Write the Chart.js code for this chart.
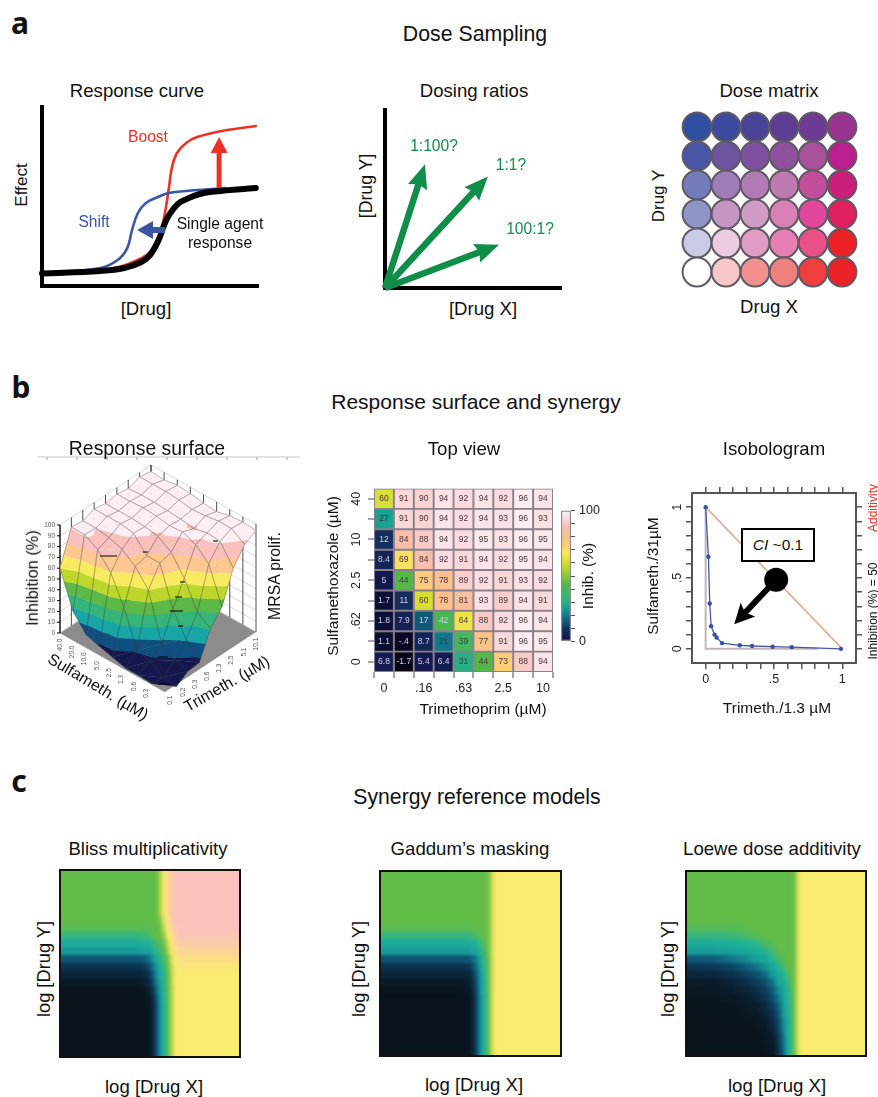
<!DOCTYPE html>
<html>
<head>
<meta charset="utf-8">
<title>Dose sampling, response surface and synergy models</title>
<script src="https://cdn.jsdelivr.net/npm/chart.js@4"></script>
<style>
html, body { margin: 0; background: #fff; }
#page { position: relative; width: 878px; height: 1097px; overflow: hidden; font-family: "Liberation Sans", Arial, sans-serif; color: #111; }
#page canvas { position: absolute; }
.t { position: absolute; white-space: nowrap; transform: translate(-50%, -50%); line-height: 1; }
.frame { position: absolute; box-sizing: border-box; overflow: hidden; border: 2px solid #111; }
.cibox { position: absolute; box-sizing: border-box; left: 741px; top: 528px; width: 74px; height: 34px; border: 2px solid #000; background: #fff; font-size: 15.5px; line-height: 30px; text-align: center; }
</style>
</head>
<body>
<div id="page"></div>
<script>
// response curve, x = dose position, y = effect (both 0-100 across the axes)
const singleX = [0, 27, 38, 46, 50, 54, 56.5, 59, 63, 67, 73, 80, 99];
const singleY = [7, 8.4, 10, 13.4, 17.3, 25.7, 34, 40, 46, 48.6, 51.4, 52.8, 54.7];
const boostX = [0, 33, 46, 51, 54, 55.6, 57.4, 58.8, 60.2, 62.5, 66.7, 71.8, 85, 99];
const boostY = [7, 10, 15.6, 20, 25.7, 33, 44, 55.3, 66.5, 74.3, 79.9, 83.2, 87, 89.4];
const shiftX = [0, 27, 35, 39.4, 41.7, 44.4, 48.1, 53.7, 58.8, 72, 85];
const shiftY = [7, 10, 14.5, 21, 31.3, 40.8, 46.4, 49.7, 52, 53.6, 54.7];
const boostArrow = [[82, 54.7], [82, 83.2]];
const shiftArrow = [[57, 31.3], [44, 31.3]];

// dosing ratio arrow tips
const ratioTips = [[22.7, 69.5], [58.5, 62.7], [64.8, 24.3]];

// dose matrix, top row first
const wellColors = [
  ["#2f4fa0", "#3a4a9e", "#4a4499", "#5c3d94", "#6f3a93", "#9a3491"],
  ["#4a55a5", "#6c54a0", "#7e50a0", "#8f509e", "#a9509c", "#bb1f8f"],
  ["#737bbd", "#a07db6", "#b27ab4", "#c07ab2", "#c24f9c", "#cc1f7a"],
  ["#9095c8", "#c596c4", "#d09bc4", "#d87fb4", "#e0479a", "#e01f5e"],
  ["#c9cbe6", "#eccae0", "#e09cc4", "#e87fb4", "#ea5088", "#ec2027"],
  ["#ffffff", "#f8c8c8", "#f29090", "#f08080", "#ee3e3e", "#ec2027"]
];

// inhibition (%), top row = highest sulfamethoxazole
const inhibition = [
  [60, 91, 90, 94, 92, 94, 92, 96, 94],
  [27, 91, 90, 94, 92, 94, 93, 96, 93],
  [12, 84, 88, 94, 92, 95, 93, 96, 95],
  [8.4, 69, 84, 92, 91, 94, 92, 95, 94],
  [5, 44, 75, 78, 89, 92, 91, 93, 92],
  [1.7, 11, 60, 78, 81, 93, 89, 94, 91],
  [1.8, 7.9, 17, 42, 64, 88, 92, 96, 94],
  [1.1, -0.4, 8.7, 21, 39, 77, 91, 96, 95],
  [6.8, -1.7, 5.4, 6.4, 31, 44, 73, 88, 94]
];
const inhibitionText = [
  ["60", "91", "90", "94", "92", "94", "92", "96", "94"],
  ["27", "91", "90", "94", "92", "94", "93", "96", "93"],
  ["12", "84", "88", "94", "92", "95", "93", "96", "95"],
  ["8.4", "69", "84", "92", "91", "94", "92", "95", "94"],
  ["5", "44", "75", "78", "89", "92", "91", "93", "92"],
  ["1.7", "11", "60", "78", "81", "93", "89", "94", "91"],
  ["1.8", "7.9", "17", "42", "64", "88", "92", "96", "94"],
  ["1.1", "-.4", "8.7", "21", "39", "77", "91", "96", "95"],
  ["6.8", "-1.7", "5.4", "6.4", "31", "44", "73", "88", "94"]
];
const topViewX = ["0", "", ".16", "", ".63", "", "2.5", "", "10"];
const topViewY = ["0", "", ".62", "", "2.5", "", "10", "", "40"];
const colorbarTicks = [0, 10, 20, 30, 40, 50, 60, 70, 80, 90, 100];

// 3d surface axes
const zTicks = [0, 10, 20, 30, 40, 50, 60, 70, 80, 90, 100];
const sulfaTicks = ["40.0", "20.0", "10.0", "5.0", "2.5", "1.3", "0.6", "0.3"];
const trimTicks = ["0.1", "0.2", "0.3", "0.6", "1.3", "2.5", "5.1", "10.1"];
const bandColors = ["#14184f", "#0f5080", "#17a5a8", "#35b57a", "#5cb947", "#bcd62c", "#f8ea60", "#fcc890", "#f8c0bc", "#fdeef3"];
const ruleTicks = [47, 77, 107, 137, 167, 197, 227, 257, 287];
// short dark strokes left on the surface: from x, to x, at y
const surfaceDashes = [[100, 117, 556], [143, 148, 552], [175, 182, 597], [170, 183, 611], [178, 183, 626], [180, 185, 582], [213, 218, 541], [158, 168, 657], [158, 170, 684]];

// isobologram
const isoCurveX = [0, 0.02, 0.03, 0.04, 0.065, 0.08, 0.12, 0.25, 0.34, 0.49, 0.63, 0.99];
const isoCurveY = [1, 0.65, 0.32, 0.16, 0.1, 0.08, 0.04, 0.025, 0.02, 0.015, 0.012, 0];
const additivityX = [0, 1];
const additivityY = [1, 0];
const axisGuideX = [0, 0, 0.82];
const axisGuideY = [1, 0, 0];
const isoTicks = [0, 0.1, 0.2, 0.3, 0.4, 0.5, 0.6, 0.7, 0.8, 0.9, 1];
const isoLabels = ["0", "", "", "", "", ".5", "", "", "", "", "1"];
const ciArrow = [[0.516, 0.488], [0.209, 0.174]];

// synergy models: inhibition read across each of 24 rows, top row first
const blissCols = [0, .44, .48, .50, .52, .54, .56, .58, .60, .62, .64, .67, 1];
const bTop = [45, 45, 45, 45, 45, 46, 55, 66, 74, 82, 85, 85, 85];
const bLow = [0, 0, 1, 4, 10, 19, 29, 34, 45, 53, 64, 66, 66];
const blissRows = [
  bTop, bTop, bTop, bTop, bTop, bTop,
  [45, 45, 45, 45, 45, 45, 50, 62, 72, 80, 85, 85, 85],
  [44, 44, 44, 44, 45, 45, 47, 58, 68, 77, 83, 85, 85],
  [38, 38, 40, 42, 44, 45, 46, 52, 64, 72, 80, 84, 84],
  [31, 31, 33, 35, 38, 41, 44, 47, 58, 68, 76, 80, 80],
  [27, 27, 28, 29, 33, 37, 41, 45, 52, 64, 72, 76, 76],
  [18, 18, 20, 23, 27, 31, 36, 42, 47, 60, 68, 72, 72],
  [12, 12, 14, 18, 23, 28, 33, 40, 46, 56, 66, 69, 69],
  [8, 8, 10, 14, 20, 27, 31, 38, 45, 55, 65, 67, 67],
  [5, 5, 7, 11, 17, 25, 30, 36, 45, 54, 65, 66, 66],
  [2, 2, 4, 8, 14, 22, 30, 35, 45, 53, 65, 66, 66],
  [0, 0, 2, 5, 11, 20, 29, 35, 45, 53, 64, 66, 66],
  bLow, bLow, bLow, bLow, bLow, bLow, bLow
];

const gaddumCols = [0, .44, .48, .50, .52, .54, .56, .58, .60, .62, .64, 1];
const gTop = [45, 45, 45, 45, 45, 45, 45, 45, 47, 58, 66, 66];
const gLow = [0, 0, 1, 4, 10, 19, 28, 34, 46, 58, 66, 66];
const gaddumRows = [
  gTop, gTop, gTop, gTop, gTop, gTop, gTop,
  [44, 44, 44, 44, 45, 45, 45, 45, 47, 58, 66, 66],
  [38, 38, 38, 39, 40, 42, 44, 45, 47, 58, 66, 66],
  [31, 31, 31, 32, 33, 36, 40, 44, 47, 58, 66, 66],
  [27, 27, 27, 28, 29, 32, 36, 42, 47, 58, 66, 66],
  [18, 18, 18, 19, 22, 26, 31, 40, 46, 58, 66, 66],
  [12, 12, 12, 14, 18, 24, 30, 38, 46, 58, 66, 66],
  [8, 8, 8, 10, 15, 22, 29, 36, 46, 58, 66, 66],
  [5, 5, 5, 8, 13, 21, 29, 35, 46, 58, 66, 66],
  [2, 2, 3, 6, 12, 20, 29, 35, 46, 58, 66, 66],
  gLow, gLow, gLow, gLow, gLow, gLow, gLow, gLow
];

const loeweCols = [0, .15, .25, .33, .40, .44, .48, .51, .54, .56, .58, .60, .62, .64, 1];
const lTop = [45, 45, 45, 45, 45, 45, 45, 45, 45, 45, 45, 46, 58, 66, 66];
const loeweRows = [
  lTop, lTop, lTop, lTop, lTop, lTop, lTop,
  [43, 43, 43, 44, 45, 45, 45, 45, 45, 45, 45, 46, 58, 66, 66],
  [38, 38, 39, 41, 44, 45, 45, 45, 45, 45, 45, 46, 58, 66, 66],
  [31, 31, 32, 34, 37, 41, 44, 45, 45, 45, 45, 46, 58, 66, 66],
  [27, 27, 28, 29, 32, 35, 40, 44, 45, 45, 45, 46, 58, 66, 66],
  [18, 19, 22, 25, 28, 30, 35, 40, 44, 45, 45, 46, 58, 66, 66],
  [12, 13, 15, 19, 23, 26, 30, 34, 40, 44, 45, 46, 58, 66, 66],
  [8, 9, 11, 14, 18, 21, 27, 30, 34, 40, 44, 46, 58, 66, 66],
  [5, 6, 8, 11, 14, 17, 22, 28, 31, 37, 42, 46, 58, 66, 66],
  [3, 4, 6, 8, 11, 14, 19, 25, 30, 34, 40, 46, 58, 66, 66],
  [1, 2, 4, 6, 9, 12, 16, 22, 29, 33, 39, 46, 58, 66, 66],
  [0, 1, 2, 4, 7, 10, 14, 19, 28, 32, 38, 46, 58, 66, 66],
  [0, 0, 1, 3, 5, 8, 12, 17, 27, 31, 37, 46, 58, 66, 66],
  [0, 0, 0, 1, 3, 6, 10, 15, 25, 30, 36, 46, 58, 66, 66],
  [0, 0, 0, 0, 2, 4, 8, 14, 24, 30, 36, 46, 58, 66, 66],
  [0, 0, 0, 0, 1, 3, 6, 12, 22, 30, 35, 46, 58, 66, 66],
  [0, 0, 0, 0, 0, 2, 5, 11, 21, 30, 35, 46, 58, 66, 66],
  [0, 0, 0, 0, 0, 1, 4, 10, 20, 30, 35, 46, 58, 66, 66]
];

// colour ramps, value -> colour
const heatStops = [[-4, "#000000"], [0, "#0a0a2a"], [5, "#14184f"], [12, "#14305f"], [20, "#10708a"], [27, "#18a090"], [33, "#2eb37e"], [44, "#52b848"], [55, "#b4d32f"], [62, "#e6e238"], [67, "#fae860"], [72, "#fcd070"], [78, "#fcc08c"], [85, "#f8bcb0"], [92, "#fadbe0"], [100, "#ffffff"]];
const modelStops = [[0, "#08131a"], [6, "#0a1c2b"], [12, "#0c3350"], [20, "#0f6080"], [28, "#18a29c"], [34, "#1fb398"], [38, "#35b680"], [45, "#62bc48"], [55, "#c4d84e"], [64, "#f9ea70"], [67, "#f9ea70"], [75, "#fbd592"], [85, "#f9c3bb"]];

const page = document.getElementById("page");
const FONT = '"Liberation Sans", Arial, sans-serif';
Chart.defaults.animation = false;
Chart.defaults.responsive = false;
Chart.defaults.events = [];
Chart.defaults.font.family = FONT;
Chart.defaults.plugins.legend.display = false;
Chart.defaults.plugins.tooltip.enabled = false;

function zip(xs, ys) { return xs.map((x, i) => ({ x: x, y: ys[i] })); }
function pairs(list) { return list.map(p => ({ x: p[0], y: p[1] })); }

function hexRgb(h) { return [1, 3, 5].map(k => parseInt(h.substr(k, 2), 16)); }
function colorAt(stops, v) {
  if (v <= stops[0][0]) return stops[0][1];
  for (let k = 1; k < stops.length; k++) {
    if (v <= stops[k][0]) {
      const t = (v - stops[k - 1][0]) / (stops[k][0] - stops[k - 1][0]);
      const a = hexRgb(stops[k - 1][1]), b = hexRgb(stops[k][1]);
      return "rgb(" + a.map((c, i) => Math.round(c + (b[i] - c) * t)).join(",") + ")";
    }
  }
  return stops[stops.length - 1][1];
}

// axis takes no room at all (for axes that only draw a line)
function flat(s) { if (s.isHorizontal()) s.height = 0; else s.width = 0; }
// axis takes exactly n pixels, so the chart area lands where it should
function sized(n) { return s => { if (s.isHorizontal()) s.height = n; else s.width = n; }; }

// places a canvas so that the chart area sits exactly on the given rectangle
// sides named in pad.axes are filled by an axis instead of padding
function plot(left, top, right, bottom, pad, config) {
  const cv = document.createElement("canvas");
  cv.width = right - left + pad.l + pad.r;
  cv.height = bottom - top + pad.t + pad.b;
  cv.style.left = (left - pad.l) + "px";
  cv.style.top = (top - pad.t) + "px";
  if (pad.blur) cv.style.filter = "blur(" + pad.blur + "px)";
  page.appendChild(cv);
  const ax = pad.axes || "";
  config.options = config.options || {};
  config.options.layout = { padding: {
    left: ax.includes("l") ? 0 : pad.l, top: ax.includes("t") ? 0 : pad.t,
    right: ax.includes("r") ? 0 : pad.r, bottom: ax.includes("b") ? 0 : pad.b
  } };
  if (typeof config.data === "function") config.data = config.data(cv.getContext("2d"));
  return new Chart(cv, config);
}

function label(text, x, y, size, opts) {
  opts = opts || {};
  const d = document.createElement("div");
  d.className = "t";
  d.textContent = text;
  d.style.left = x + "px";
  d.style.top = y + "px";
  d.style.fontSize = size + "px";
  if (opts.color) d.style.color = opts.color;
  if (opts.bold) d.style.fontWeight = "bold";
  if (opts.family) d.style.fontFamily = opts.family;
  if (opts.rot) d.style.transform = "translate(-50%, -50%) rotate(" + opts.rot + "deg)";
  page.appendChild(d);
}

function hiddenScale(min, max, reverse) {
  return { type: "linear", display: false, min: min, max: max, reverse: !!reverse };
}
function blackAxis(min, max) {
  return {
    type: "linear", min: min, max: max, afterFit: flat,
    grid: { display: false, drawTicks: false },
    ticks: { display: false },
    border: { color: "#000", width: 4 }
  };
}
function curve(xs, ys, color, width) {
  return {
    data: zip(xs, ys), showLine: true, borderColor: color, borderWidth: width,
    pointRadius: 0, tension: 0.4, borderCapStyle: "round", clip: false
  };
}
function arrow(points, color, shaft, len, wide, notch) {
  return { data: pairs(points), showLine: false, pointRadius: 0, clip: false, arrow: { color, shaft, len, wide, notch: notch || 0 } };
}

// arrows are filled shapes between two data points
const arrowPlugin = {
  id: "arrows",
  afterDatasetsDraw(chart) {
    const ctx = chart.ctx, sx = chart.scales.x, sy = chart.scales.y;
    chart.data.datasets.forEach(ds => {
      if (!ds.arrow) return;
      const a = ds.data[0], b = ds.data[1], o = ds.arrow;
      const x0 = sx.getPixelForValue(a.x), y0 = sy.getPixelForValue(a.y);
      const x1 = sx.getPixelForValue(b.x), y1 = sy.getPixelForValue(b.y);
      const L = Math.hypot(x1 - x0, y1 - y0);
      ctx.save();
      ctx.translate(x0, y0);
      ctx.rotate(Math.atan2(y1 - y0, x1 - x0));
      ctx.fillStyle = o.color;
      ctx.beginPath();
      ctx.moveTo(0, -o.shaft / 2);
      ctx.lineTo(L - o.len + o.notch, -o.shaft / 2);
      ctx.lineTo(L - o.len, -o.wide / 2);
      ctx.lineTo(L, 0);
      ctx.lineTo(L - o.len, o.wide / 2);
      ctx.lineTo(L - o.len + o.notch, o.shaft / 2);
      ctx.lineTo(0, o.shaft / 2);
      ctx.closePath();
      ctx.fill();
      ctx.restore();
    });
  }
};

/* ---------- a: response curve ---------- */
plot(42, 107, 258, 286, { l: 6, t: 6, r: 6, b: 6 }, {
  type: "scatter",
  plugins: [arrowPlugin],
  data: {
    datasets: [
      curve(singleX, singleY, "#000", 6),
      curve(shiftX, shiftY, "#3a55a4", 2.6),
      curve(boostX, boostY, "#ee3124", 2.6),
      arrow(boostArrow, "#ee3124", 5, 16, 17),
      arrow(shiftArrow, "#3a55a4", 6, 16, 18)
    ]
  },
  options: { scales: { x: blackAxis(0, 100), y: blackAxis(0, 100) } }
});

/* ---------- a: dosing ratios ---------- */
plot(385, 110, 561, 288, { l: 6, t: 6, r: 6, b: 6 }, {
  type: "scatter",
  plugins: [arrowPlugin],
  data: { datasets: ratioTips.map(t => arrow([[0, 0], t], "#118d4a", 6.5, 24, 20, 2)) },
  options: { scales: { x: blackAxis(0, 100), y: blackAxis(0, 100) } }
});

/* ---------- a: dose matrix ---------- */
const wells = [], wellFill = [];
wellColors.forEach((row, r) => row.forEach((c, k) => {
  wells.push({ x: k, y: 5 - r });
  wellFill.push(c);
}));
plot(697, 127, 842, 272, { l: 18, t: 18, r: 18, b: 18 }, {
  type: "scatter",
  data: { datasets: [{ data: wells, pointRadius: 14.4, pointBackgroundColor: wellFill, pointBorderColor: "#5f5a64", pointBorderWidth: 2, clip: false }] },
  options: { scales: { x: hiddenScale(0, 5), y: hiddenScale(0, 5) } }
});

/* ---------- b: response surface ---------- */
function project(i, j, z) {
  return { x: 165 - 13.125 * i + 11.375 * j, y: 692 - 7.375 * i - 7.5 * j - 1.08 * z };
}
function lineSet(points, color, width) {
  return { data: points, showLine: true, borderColor: color, borderWidth: width, pointRadius: 0, clip: false };
}
function shapeSet(points, color, edge) {
  return { data: points, showLine: true, fill: "shape", backgroundColor: color, borderColor: edge || color, borderWidth: 0.6, pointRadius: 0, clip: false };
}
// keeps the part of a polygon with z >= lim (sign 1) or z <= lim (sign -1)
function clipZ(poly, lim, sign) {
  const out = [];
  poly.forEach((p, k) => {
    const q = poly[(k + 1) % poly.length];
    const pin = sign * (p[2] - lim) >= 0, qin = sign * (q[2] - lim) >= 0;
    if (pin) out.push(p);
    if (pin !== qin) {
      const t = (lim - p[2]) / (q[2] - p[2]);
      out.push([p[0] + (q[0] - p[0]) * t, p[1] + (q[1] - p[1]) * t, lim]);
    }
  });
  return out;
}
function surfaceSets() {
  const sets = [];
  const z = (i, j) => inhibition[8 - i][j];
  // rule under the title
  sets.push(lineSet([{ x: 38, y: 457 }, { x: 300, y: 457 }], "#c8c8c8", 1));
  ruleTicks.forEach(t => sets.push(lineSet([{ x: t, y: 457 }, { x: t, y: 460 }], "#c8c8c8", 1)));
  // floor and back walls
  sets.push(shapeSet([project(0, 0, 0), project(8, 0, 0), project(8, 8, 0), project(0, 8, 0)], "#8c8c8c"));
  zTicks.forEach(v => sets.push(lineSet([project(8, 0, v), project(8, 8, v), project(0, 8, v)], "#cfcfcf", 0.8)));
  for (let k = 0; k <= 8; k++) {
    sets.push(lineSet([project(8, k, 0), project(8, k, 100)], "#222", 0.8));
    sets.push(lineSet([project(k, 8, 0), project(k, 8, 100)], "#222", 0.8));
  }
  sets.push(lineSet([project(8, 0, 0), project(8, 0, 100)], "#000", 1));
  // surface, painted from the back corner to the front
  const mesh = "rgba(60,50,50,0.42)";
  for (let s = 14; s >= 0; s--) {
    for (let i = 7; i >= 0; i--) {
      const j = s - i;
      if (j < 0 || j > 7) continue;
      const A = [i, j, z(i, j)], B = [i + 1, j, z(i + 1, j)], C = [i + 1, j + 1, z(i + 1, j + 1)], D = [i, j + 1, z(i, j + 1)];
      [[B, C, D], [B, A, D]].forEach(tri => {
        bandColors.forEach((color, b) => {
          let poly = clipZ(tri, b === 9 ? 90 : b * 10, 1);
          if (b === 0) poly = clipZ(tri, 10, -1);
          else if (b < 9) poly = poly.length ? clipZ(poly, (b + 1) * 10, -1) : poly;
          if (poly.length >= 3) sets.push(shapeSet(poly.map(p => project(p[0], p[1], p[2])), color));
        });
      });
      sets.push(lineSet([A, B, C, D, A].map(p => project(p[0], p[1], p[2])), mesh, 0.8));
    }
  }
  surfaceDashes.forEach(d => sets.push(lineSet([{ x: d[0], y: d[2] }, { x: d[1], y: d[2] }], "#000", 1)));
  return sets.reverse(); // first dataset is drawn last by Chart.js
}
const surfaceLabels = {
  id: "surfaceLabels",
  afterDatasetsDraw(chart) {
    const ctx = chart.ctx, sx = chart.scales.x, sy = chart.scales.y;
    const at = (p, dx, dy) => [sx.getPixelForValue(p.x) + dx, sy.getPixelForValue(p.y) + dy];
    ctx.save();
    ctx.fillStyle = "#555";
    ctx.strokeStyle = "#000";
    ctx.font = "6.5px " + FONT;
    ctx.textAlign = "right";
    ctx.textBaseline = "middle";
    zTicks.forEach(v => {
      const q = at(project(8, 0, v), 0, 0);
      ctx.beginPath(); ctx.moveTo(q[0] - 3, q[1]); ctx.lineTo(q[0], q[1]); ctx.stroke();
      ctx.fillText(String(v), q[0] - 5, q[1]);
    });
    ctx.textAlign = "center";
    const side = (text, q) => {
      ctx.save(); ctx.translate(q[0], q[1]); ctx.rotate(-Math.PI / 2); ctx.fillText(text, 0, 0); ctx.restore();
    };
    sulfaTicks.forEach((t, k) => side(t, at(project(8 - 0.936 * k, 0, 0), 0, 12)));
    trimTicks.forEach((t, k) => side(t, at(project(0, 0.5 + 1.07 * k, 0), 0, 12)));
    ctx.restore();
  }
};
plot(30, 455, 300, 705, { l: 0, t: 0, r: 0, b: 0 }, {
  type: "scatter",
  plugins: [surfaceLabels],
  data: { datasets: surfaceSets() },
  options: { scales: { x: hiddenScale(30, 300), y: hiddenScale(455, 705, true) } }
});

/* ---------- b: top view ---------- */
const tickFont = { size: 12.5 };
const cellSets = inhibition.slice().reverse().map(row => ({
  data: row.map(() => 1),
  backgroundColor: row.map(v => colorAt(heatStops, v)),
  borderColor: "#8a7f88",
  borderWidth: 1.3,
  borderSkipped: false,
  barPercentage: 1,
  categoryPercentage: 1
}));
const cellText = {
  id: "cellText",
  afterDatasetsDraw(chart) {
    const ctx = chart.ctx;
    ctx.save();
    ctx.font = "8.5px " + FONT;
    ctx.textAlign = "center";
    ctx.textBaseline = "middle";
    const rows = inhibition.slice().reverse(), text = inhibitionText.slice().reverse();
    rows.forEach((row, r) => {
      const bars = chart.getDatasetMeta(r).data;
      row.forEach((v, k) => {
        ctx.fillStyle = (v < 20 || text[r][k] === "42") ? "#cfd0e6" : "#43383f";
        const c = bars[k].getCenterPoint();
        ctx.fillText(text[r][k], c.x, c.y);
      });
    });
    ctx.restore();
  }
};
plot(374, 486, 553, 672, { l: 34, t: 8, r: 8, b: 28, axes: "lb", blur: 0.45 }, {
  type: "bar",
  plugins: [cellText],
  data: { labels: topViewX, datasets: cellSets },
  options: {
    scales: {
      x: {
        stacked: true, afterFit: sized(28), border: { display: false },
        grid: { drawOnChartArea: false, color: "#a9a3a8", tickLength: 6, lineWidth: 2 },
        ticks: { autoSkip: false, maxRotation: 0, padding: 3, font: tickFont, color: "#222" }
      },
      y: {
        stacked: true, min: 0, max: 9, afterFit: sized(34), border: { display: false },
        afterBuildTicks: s => { s.ticks = topViewY.map((t, k) => ({ value: k + 0.5 })); },
        grid: { drawOnChartArea: false, color: "#a9a3a8", tickLength: 6, lineWidth: 2 },
        ticks: { autoSkip: false, minRotation: 90, maxRotation: 90, crossAlign: "center", padding: 3, font: tickFont, color: "#222", callback: (v, k) => topViewY[k] }
      }
    }
  }
});

/* ---------- b: colour bar ---------- */
plot(561, 507, 571, 645, { l: 3, t: 8, r: 34, b: 8, axes: "r" }, {
  type: "bar",
  data: ctx => {
    const g = ctx.createLinearGradient(0, 8, 0, 146);
    heatStops.filter(s => s[0] >= 0).forEach(s => g.addColorStop(1 - s[0] / 100, s[1]));
    return { labels: [""], datasets: [{ data: [100], backgroundColor: g, borderColor: "#8a8a8a", borderWidth: 1.5, borderSkipped: false, barPercentage: 1, categoryPercentage: 1 }] };
  },
  options: {
    scales: {
      x: { display: false },
      y: {
        position: "right", min: 0, max: 100, afterFit: sized(34), border: { display: false },
        afterBuildTicks: s => { s.ticks = colorbarTicks.map(v => ({ value: v })); },
        grid: { drawOnChartArea: false, color: "#555", tickLength: 4, lineWidth: 1 },
        ticks: { autoSkip: false, padding: 4, font: tickFont, color: "#222", callback: v => (v === 0 || v === 100) ? String(v) : "" }
      }
    }
  }
});

/* ---------- b: isobologram ---------- */
function frameAxis(position, size, withLabels) {
  return {
    type: "linear", position: position, min: -0.1, max: 1.1, afterFit: sized(size),
    afterBuildTicks: s => { s.ticks = isoTicks.map(v => ({ value: v })); },
    border: { color: "#555", width: 2 },
    grid: { drawOnChartArea: false, color: "#555", tickLength: 6, lineWidth: 1.5 },
    ticks: withLabels
      ? { autoSkip: false, maxRotation: 0, padding: 3, font: tickFont, color: "#222", callback: (v, k) => isoLabels[k] }
      : { display: false }
  };
}
const isoY = frameAxis("left", 28, true);
isoY.ticks.minRotation = 90;
isoY.ticks.maxRotation = 90;
isoY.ticks.crossAlign = "center";
plot(692, 491, 858, 663, { l: 28, t: 10, r: 10, b: 26, axes: "ltrb" }, {
  type: "scatter",
  plugins: [arrowPlugin],
  data: {
    datasets: [
      arrow(ciArrow, "#000", 6, 20, 20, 3),
      { data: pairs(ciArrow.slice(0, 1)), pointRadius: 12, pointBackgroundColor: "#000", pointBorderWidth: 0 },
      { data: zip(isoCurveX, isoCurveY), showLine: true, borderColor: "#4257a8", borderWidth: 1.3, pointRadius: 2.2, pointBackgroundColor: "#3a4fa0", pointBorderWidth: 0 },
      { data: zip(additivityX, additivityY), showLine: true, borderColor: "#e8ab8f", borderWidth: 1.6, pointRadius: 0 },
      { data: zip(axisGuideX, axisGuideY), showLine: true, borderColor: "#bdb7b4", borderWidth: 2, pointRadius: 0 }
    ]
  },
  options: {
    scales: {
      x: frameAxis("bottom", 26, true), y: isoY, x2: frameAxis("top", 10, false), y2: frameAxis("right", 10, false)
    }
  }
});
const ciBox = document.createElement("div");
ciBox.className = "cibox";
ciBox.innerHTML = "<i>CI</i> ~0.1";

/* ---------- c: synergy models ---------- */
function modelPanel(left, top, w, h, cols, rows) {
  const wrap = document.createElement("div");
  wrap.className = "frame";
  wrap.style.left = left + "px";
  wrap.style.top = top + "px";
  wrap.style.width = w + "px";
  wrap.style.height = h + "px";
  page.appendChild(wrap);
  const cv = document.createElement("canvas");
  const rowH = h / rows.length;
  cv.width = Math.round(w * 1.1);
  cv.height = Math.round(h + 2 * rowH);
  cv.style.left = (-w * 0.05 - 2) + "px";
  cv.style.top = (-rowH - 2) + "px";
  cv.style.filter = "blur(1.4px)";
  wrap.appendChild(cv);
  const ctx = cv.getContext("2d");
  const all = [rows[0]].concat(rows, [rows[rows.length - 1]]);
  const fills = all.map(row => {
    const g = ctx.createLinearGradient(0, 0, cv.width, 0);
    row.forEach((v, k) => g.addColorStop((cols[k] + 0.05) / 1.1, colorAt(modelStops, v)));
    g.addColorStop(0, colorAt(modelStops, row[0]));
    g.addColorStop(1, colorAt(modelStops, row[row.length - 1]));
    return g;
  });
  new Chart(cv, {
    type: "bar",
    data: { labels: all.map((r, k) => k), datasets: [{ data: all.map(() => [-0.05, 1.05]), backgroundColor: fills, borderWidth: 0, barPercentage: 1.15, categoryPercentage: 1 }] },
    options: { indexAxis: "y", scales: { x: hiddenScale(-0.05, 1.05), y: { display: false } } }
  });
}
modelPanel(59, 869, 182, 189, blissCols, blissRows);
modelPanel(379, 870, 183, 187, gaddumCols, gaddumRows);
modelPanel(685, 870, 182, 187, loeweCols, loeweRows);

/* ---------- text ---------- */
page.appendChild(ciBox);
const letterFont = '"Noto Sans", sans-serif';
label("a", 20, 23, 30, { bold: true, family: letterFont });
label("b", 21, 387, 30, { bold: true, family: letterFont });
label("c", 19, 781, 30, { bold: true, family: letterFont });

label("Dose Sampling", 475, 35, 21.3);
label("Response curve", 137, 91, 18.6);
label("Dosing ratios", 474, 91, 18.6);
label("Dose matrix", 769, 91, 18.6);
label("Effect", 22, 185, 17.2, { rot: -90 });
label("[Drug]", 146, 309, 18.6);
label("[Drug X]", 483, 309, 18.6);
label("[Drug Y]", 367, 186, 17.7, { rot: -90 });
label("Drug X", 769, 307, 18.6);
label("Drug Y", 658, 196, 17, { rot: -90 });
label("Boost", 148, 137, 15.6, { color: "#ee3124" });
label("Shift", 94, 222, 15.6, { color: "#3a55a4" });
label("Single agent", 220, 224, 15.6);
label("response", 220, 243, 15.6);
label("1:100?", 434, 146, 15.6, { color: "#118d4a" });
label("1:1?", 511, 165, 15.6, { color: "#118d4a" });
label("100:1?", 530, 229, 15.6, { color: "#118d4a" });

label("Response surface and synergy", 476, 401, 21);
label("Response surface", 147, 449, 19.4);
label("Top view", 464, 449, 18.6);
label("Isobologram", 774, 449, 18.6);
label("Inhibition (%)", 32, 578, 16.4, { rot: -90 });
label("MRSA prolif.", 275, 576, 15.8, { rot: -90 });
label("Sulfameth. (µM)", 98, 687, 16, { rot: 31 });
label("Trimeth. (µM)", 227, 684, 16, { rot: -30 });
label("Sulfamethoxazole (µM)", 333, 576, 15.5, { rot: -90 });
label("Trimethoprim (µM)", 483, 709, 15.5);
label("Inhib. (%)", 588, 576, 15.5, { rot: -90 });
label("Sulfameth./31µM", 653, 576, 15.5, { rot: -90 });
label("Trimeth./1.3 µM", 777, 708, 15.5);
label("Additivity", 873, 508, 12, { rot: -90, color: "#ee3124" });
label("Inhibition (%) = 50", 873, 611, 12, { rot: -90 });

label("Synergy reference models", 477, 797, 21.2);
label("Bliss multiplicativity", 148, 849, 18.6);
label("Gaddum\u2019s masking", 470, 849, 18.6);
label("Loewe dose additivity", 772, 849, 18.6);
label("log [Drug Y]", 44, 969, 18.3, { rot: -90 });
label("log [Drug Y]", 359, 969, 18.3, { rot: -90 });
label("log [Drug Y]", 668, 969, 18.3, { rot: -90 });
label("log [Drug X]", 154, 1087, 18.6);
label("log [Drug X]", 474, 1085, 18.6);
label("log [Drug X]", 777, 1086, 18.6);
</script>
</body>
</html>
